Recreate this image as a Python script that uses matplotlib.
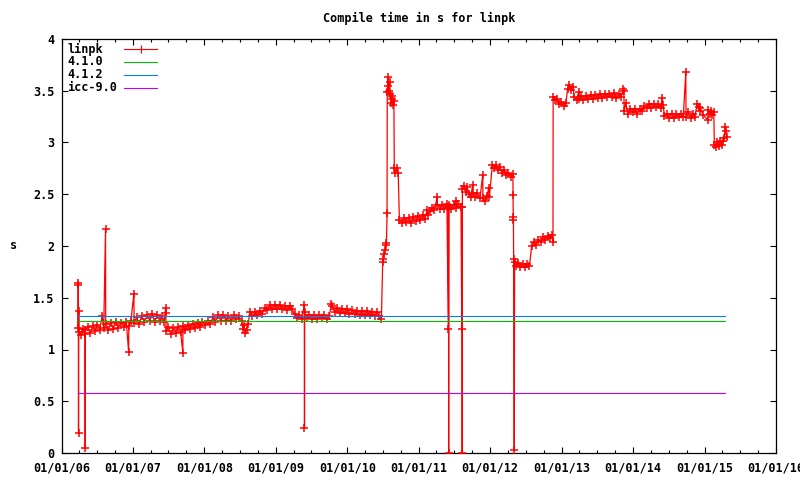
import pandas as pd
import matplotlib
matplotlib.use("Agg")
import matplotlib.pyplot as plt
import matplotlib.dates as mdates
from matplotlib.lines import Line2D
from matplotlib.ticker import MultipleLocator, FuncFormatter

# nightly linpk compile times (s), grouped by year (MM-DD)
d2006 = ["03-26", "03-27", "03-28", "03-29", "03-30", "03-31", "04-10", "04-20", "05-01", "05-02",
         "05-03", "05-15", "05-28", "06-10", "06-22", "07-03", "07-15", "07-28", "08-05", "08-14",
         "08-15", "08-28", "09-10", "09-22", "10-05", "10-18", "11-01", "11-15", "11-28", "12-10",
         "12-11", "12-22"]
v2006 = [1.21, 1.64, 1.62, 0.19, 1.37, 1.17, 1.14, 1.20, 1.15, 0.05,
         1.19, 1.22, 1.16, 1.23, 1.18, 1.24, 1.19, 1.32, 1.21, 2.16,
         1.25, 1.19, 1.26, 1.20, 1.27, 1.21, 1.26, 1.22, 1.27, 0.98,
         1.23, 1.28]
d2007 = ["01-06", "01-07", "01-20", "02-02", "02-15", "03-01", "03-15", "03-28", "04-10", "04-22",
         "05-05", "05-18", "05-30", "06-10", "06-17", "06-18", "06-20", "07-01", "07-14", "07-27",
         "08-08", "08-20", "09-02", "09-13", "09-14", "09-26", "10-08", "10-20", "11-02", "11-15",
         "11-28", "12-10", "12-22"]
v2007 = [1.54, 1.26, 1.31, 1.25, 1.32, 1.27, 1.33, 1.28, 1.34, 1.27,
         1.33, 1.28, 1.32, 1.27, 1.40, 1.35, 1.18, 1.22, 1.15, 1.21,
         1.16, 1.22, 1.17, 0.97, 1.23, 1.19, 1.24, 1.20, 1.25, 1.21,
         1.26, 1.22, 1.27]
d2008 = ["01-05", "01-18", "02-01", "02-14", "02-27", "03-12", "03-25", "04-08", "04-20", "05-03",
         "05-16", "05-30", "06-12", "06-26", "07-10", "07-16", "07-22", "07-28", "08-04", "08-12",
         "08-21", "09-02", "09-15", "09-28", "10-10", "10-22", "11-04", "11-17", "11-30", "12-12",
         "12-25"]
v2008 = [1.24, 1.28, 1.25, 1.31, 1.27, 1.33, 1.28, 1.33, 1.28, 1.32,
         1.28, 1.33, 1.29, 1.32, 1.28, 1.20, 1.24, 1.16, 1.19, 1.25,
         1.36, 1.32, 1.36, 1.33, 1.37, 1.34, 1.40, 1.38, 1.43, 1.39,
         1.43]
d2009 = ["01-07", "01-20", "02-02", "02-15", "02-28", "03-12", "03-25", "04-06", "04-18", "04-30",
         "05-12", "05-26", "05-27", "05-28", "06-08", "06-20", "07-02", "07-15", "07-28", "08-10",
         "08-22", "09-04", "09-17", "09-30", "10-12", "10-16", "10-28", "11-10", "11-22", "12-05",
         "12-18", "12-30"]
v2009 = [1.39, 1.43, 1.39, 1.42, 1.38, 1.42, 1.39, 1.34, 1.30, 1.33,
         1.29, 1.43, 0.24, 1.36, 1.30, 1.33, 1.29, 1.33, 1.29, 1.33,
         1.30, 1.33, 1.29, 1.32, 1.44, 1.42, 1.36, 1.40, 1.35, 1.39,
         1.35, 1.39]
d2010 = ["01-12", "01-25", "02-07", "02-20", "03-05", "03-18", "03-31", "04-12", "04-25", "05-08",
         "05-20", "06-02", "06-14", "06-24", "07-01", "07-04", "07-08", "07-12", "07-16", "07-20",
         "07-23", "07-24", "07-27", "07-30", "08-02", "08-05", "08-09", "08-12", "08-15", "08-19",
         "08-23", "08-27", "08-29", "09-03", "09-10", "09-18", "09-24", "10-05", "10-17", "10-29",
         "11-10", "11-22", "12-04", "12-16", "12-28"]
v2010 = [1.34, 1.38, 1.34, 1.37, 1.33, 1.37, 1.33, 1.37, 1.33, 1.36,
         1.32, 1.36, 1.32, 1.29, 1.87, 1.85, 1.92, 1.96, 2.01, 2.03,
         2.32, 3.49, 3.63, 3.55, 3.50, 3.58, 3.47, 3.38, 3.45, 3.42,
         3.36, 3.40, 2.75, 2.71, 2.75, 2.71, 2.25, 2.22, 2.27, 2.23,
         2.27, 2.22, 2.28, 2.24, 2.29]
d2011 = ["01-09", "01-22", "02-03", "02-12", "02-15", "02-27", "03-10", "03-22", "04-05", "04-06",
         "04-18", "04-30", "05-12", "05-25", "06-01", "06-02", "06-03", "06-04", "06-16", "06-28",
         "07-08", "07-09", "07-22", "08-05", "08-09", "08-10", "08-11", "08-12", "08-20", "08-28",
         "09-05", "09-15", "09-24", "10-03", "10-04", "10-15", "10-28", "11-10", "11-24", "11-25",
         "12-05", "12-15", "12-25", "12-28"]
v2011 = [2.25, 2.30, 2.26, 2.35, 2.30, 2.34, 2.37, 2.35, 2.47, 2.40,
         2.36, 2.40, 2.36, 2.41, 1.20, 2.37, 0.00, 2.40, 2.36, 2.40,
         2.43, 2.37, 2.41, 2.38, 1.20, 2.38, 0.00, 2.55, 2.58, 2.52,
         2.57, 2.50, 2.47, 2.59, 2.51, 2.47, 2.51, 2.46, 2.69, 2.46,
         2.43, 2.48, 2.56, 2.47]
d2012 = ["01-12", "01-20", "01-30", "02-10", "02-20", "03-01", "03-12", "03-22", "04-02", "04-14",
         "04-26", "04-27", "04-28", "04-29", "04-30", "05-03", "05-05", "05-14", "05-24", "06-04",
         "06-15", "06-26", "07-08", "07-20", "07-31", "08-10", "08-22", "09-03", "09-15", "09-27",
         "10-09", "10-21", "11-02", "11-12", "11-17", "11-18", "11-28", "12-08", "12-18", "12-30"]
v2012 = [2.78, 2.75, 2.78, 2.73, 2.76, 2.71, 2.73, 2.69, 2.71, 2.67,
         2.70, 2.49, 2.28, 2.25, 1.87, 0.03, 1.85, 1.81, 1.84, 1.80,
         1.83, 1.80, 1.83, 1.81, 2.00, 2.04, 2.01, 2.06, 2.04, 2.09,
         2.06, 2.10, 2.08, 2.11, 2.04, 3.44, 3.41, 3.42, 3.37, 3.39]
d2013 = ["01-10", "01-22", "01-31", "02-08", "02-16", "02-26", "03-06", "03-18", "03-28", "03-30",
         "04-10", "04-22", "05-04", "05-16", "05-28", "06-09", "06-21", "07-03", "07-15", "07-27",
         "08-08", "08-20", "09-01", "09-13", "09-25", "10-07", "10-19", "10-31", "11-12", "11-14",
         "11-16", "11-24", "12-05", "12-17", "12-29"]
v2013 = [3.35, 3.38, 3.52, 3.56, 3.51, 3.54, 3.44, 3.41, 3.49, 3.42,
         3.45, 3.41, 3.45, 3.42, 3.46, 3.42, 3.46, 3.43, 3.47, 3.43,
         3.47, 3.44, 3.47, 3.44, 3.48, 3.43, 3.47, 3.44, 3.52, 3.50,
         3.30, 3.38, 3.28, 3.32, 3.29]
d2014 = ["01-10", "01-22", "02-03", "02-15", "02-27", "03-11", "03-23", "04-04", "04-16", "04-28",
         "05-10", "05-22", "05-29", "06-03", "06-10", "06-22", "07-04", "07-16", "07-28", "08-09",
         "08-21", "09-02", "09-14", "09-27", "09-28", "10-10", "10-22", "11-03", "11-12", "11-24",
         "12-01", "12-06", "12-11", "12-23"]
v2014 = [3.32, 3.28, 3.32, 3.30, 3.35, 3.33, 3.37, 3.33, 3.37, 3.34,
         3.37, 3.33, 3.43, 3.36, 3.26, 3.28, 3.24, 3.28, 3.24, 3.28,
         3.25, 3.28, 3.25, 3.68, 3.25, 3.29, 3.24, 3.28, 3.25, 3.37,
         3.34, 3.30, 3.33, 3.27]
d2015 = ["01-17", "01-20", "01-27", "02-03", "02-10", "02-17", "02-20", "02-27", "03-06", "03-14",
         "03-22", "03-30", "04-07", "04-12", "04-16", "04-20", "04-25"]
v2015 = [3.22, 3.31, 3.28, 3.30, 3.27, 3.29, 2.98, 2.96, 3.00, 2.97,
         3.01, 2.98, 3.01, 3.04, 3.15, 3.11, 3.05]

# reference compilers: constant compile time over the same period
ref_names = ["4.1.0", "4.1.2", "icc-9.0"]
ref_times = [1.272, 1.321, 0.577]
ref_span = ["2006-03-27", "2015-04-16"]

RED = "#ff0000"
ref_colors = ["#00c000", "#0080ff", "#c000ff"]

years = [(2006, d2006, v2006), (2007, d2007, v2007), (2008, d2008, v2008), (2009, d2009, v2009),
         (2010, d2010, v2010), (2011, d2011, v2011), (2012, d2012, v2012), (2013, d2013, v2013),
         (2014, d2014, v2014), (2015, d2015, v2015)]
dates, times = [], []
for yr, dd, vv in years:
    assert len(dd) == len(vv), yr
    dates += [f"{yr}-{d}" for d in dd]
    times += vv
dates = pd.to_datetime(dates)

plt.rcParams["font.family"] = ["DejaVu Sans Mono"]
plt.rcParams["font.weight"] = "bold"
plt.rcParams["font.size"] = 8.5

W, H = 800, 480
L, R, T, B = 61.5, 776, 39, 453
fig = plt.figure(figsize=(W / 100, H / 100), dpi=100)
ax = fig.add_axes([L / W, 1 - B / H, (R - L) / W, (B - T) / H])

ax.plot(dates, times, "-", marker="+", color=RED, lw=0.9, ms=5.6, mew=1.1, zorder=3)
for name, val, col in zip(ref_names, ref_times, ref_colors):
    ax.plot(pd.to_datetime(ref_span), [val, val], "-", color=col, lw=0.8, zorder=4)

ax.set_xlim(pd.Timestamp("2006-01-01"), pd.Timestamp("2016-01-01"))
ax.set_ylim(0, 4)
ax.xaxis.set_major_locator(mdates.YearLocator())
ax.xaxis.set_minor_locator(mdates.MonthLocator(bymonth=[4, 7, 10]))
ax.xaxis.set_major_formatter(mdates.DateFormatter("%m/%d/%y"))
ax.yaxis.set_major_locator(MultipleLocator(0.5))
ax.yaxis.set_major_formatter(FuncFormatter(lambda v, p: f"{v:g}"))
ax.tick_params(which="both", direction="in", top=True, right=True, width=0.8, colors="black")
ax.tick_params(which="major", length=4.0)
ax.tick_params(which="minor", length=2.2)
ax.tick_params(axis="x", pad=6)
ax.tick_params(axis="y", pad=5)
for s in ax.spines.values():
    s.set_linewidth(0.9)

# gnuplot-style key: left-justified names, sample line to the right
px = R - L
py = B - T
for i, (name, col) in enumerate(zip(["linpk"] + ref_names, [RED] + ref_colors)):
    yy = 1 - (49 - T + 13 * i) / py
    ax.text(5.5 / px, yy, name, transform=ax.transAxes, ha="left", va="center")
    ln = Line2D([62.5 / px, 79 / px, 95.5 / px], [yy, yy, yy], transform=ax.transAxes,
                color=col, lw=0.8)
    if i == 0:
        ln.set_marker("+"); ln.set_markevery([1]); ln.set_markersize(5.6); ln.set_markeredgewidth(0.8)
    ax.add_line(ln)

fig.text((L + R) / 2 / W, 1 - 18 / H, "Compile time in s for linpk", ha="center", va="center")
fig.text(14 / W, 1 - 246 / H, "s", ha="center", va="center")

fig.savefig("out.png", dpi=100)
